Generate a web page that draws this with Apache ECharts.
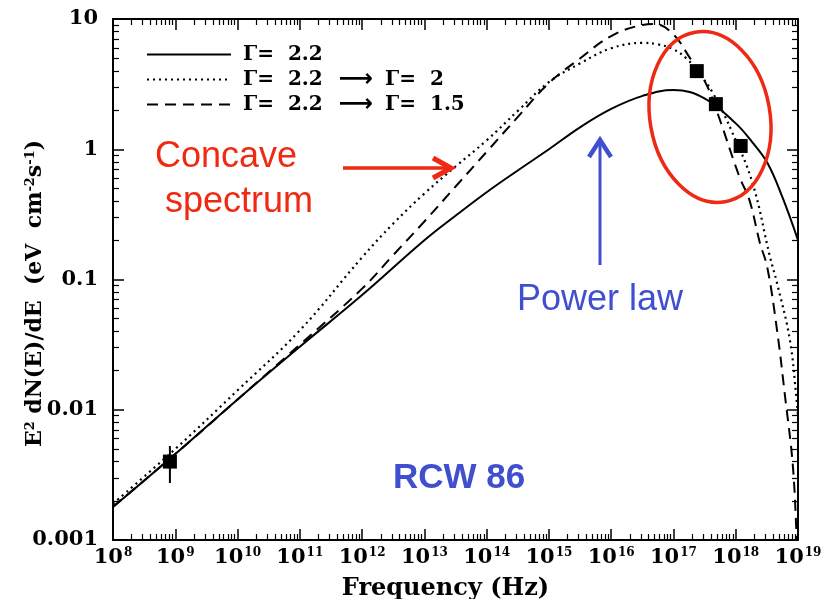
<!DOCTYPE html>
<html>
<head>
<meta charset="utf-8">
<title>RCW 86</title>
<script src="https://cdn.jsdelivr.net/npm/echarts@6/dist/echarts.min.js"></script>
<style>
  html, body { margin: 0; padding: 0; background: #fff; }
  #chart { width: 834px; height: 599px; }
</style>
</head>
<body>
<div id="chart"></div>
<script>
// model curves, [frequency Hz, E^2 dN/dE]
const gamma22 = [
  [1e8, 0.00179], [1e9, 0.00457], [1e10, 0.0120], [1e11, 0.0305], [1e12, 0.0759],
  [1e13, 0.200], [3.2e13, 0.31], [1e14, 0.468], [3.2e14, 0.69], [1e15, 1.0],
  [3.2e15, 1.48], [1e16, 2.04], [3.2e16, 2.57], [1e17, 2.85], [3.2e17, 2.45],
  [1e18, 1.58], [1.8e18, 1.15], [3.2e18, 0.79], [5.6e18, 0.43], [1e19, 0.20]
]
const gamma22to2 = [
  [1e8, 0.0019], [1e9, 0.0050], [1e10, 0.0141], [1e11, 0.0407], [1e12, 0.148],
  [3.2e12, 0.27], [1e13, 0.457], [3.2e13, 0.74], [1e14, 1.17], [3.2e14, 1.98],
  [1e15, 3.28], [3.2e15, 4.57], [1e16, 5.96], [3.2e16, 6.55], [5.5e16, 6.4],
  [1e17, 5.85], [1.6e17, 5.0], [2.35e17, 4.06], [4.3e17, 2.70], [8.9e17, 1.33],
  [1.86e18, 0.551], [3.55e18, 0.149], [4.6e18, 0.094], [7.4e18, 0.0344],
  [9.5e18, 0.0119], [1e19, 0.0089]
]
const gamma22to15 = [
  [1e8, 0.0018], [1e9, 0.00457], [1e10, 0.0120], [1e11, 0.0316], [1e12, 0.0851],
  [3.2e12, 0.155], [1e13, 0.279], [3.2e13, 0.52], [1e14, 0.955], [3.2e14, 1.78],
  [1e15, 3.22], [3.2e15, 5.0], [1e16, 7.4], [3.2e16, 9.0], [5e16, 9.15],
  [1e17, 7.6], [1.8e17, 5.1], [3.2e17, 3.31], [4.9e17, 2.0], [1.15e18, 0.612],
  [1.66e18, 0.407], [2.45e18, 0.19], [3.2e18, 0.125], [4.6e18, 0.041],
  [6.2e18, 0.0126], [8.3e18, 0.00363], [9.5e18, 0.001]
]
// observed fluxes (radio + X-ray)
const obsPoints = [[8.2e8, 0.0040], [2.37e17, 3.98], [4.8e17, 2.22], [1.2e18, 1.06]]
const radioErr = [[8.2e8, 0.00527], [8.2e8, 0.00274]]

const xTickExps = [8, 9, 10, 11, 12, 13, 14, 15, 16, 17, 18, 19]
const yTickLabels = ['0.001', '0.01', '0.1', '1', '10']

const serifFont = '"DejaVu Serif", serif'
const sansFont = '"Liberation Sans", Arial, sans-serif'

const chart = echarts.init(document.getElementById('chart'))

const axisCommon = {
  axisLine: { show: true, onZero: false, lineStyle: { color: '#000', width: 2 } },
  axisTick: { show: true, inside: true, length: 11, lineStyle: { color: '#000', width: 1.5 } },
  minorTick: { show: true, splitNumber: 9, length: 6, lineStyle: { color: '#000', width: 1.2 } },
  splitLine: { show: false },
  minorSplitLine: { show: false }
}

function xLabel(v) {
  const e = Math.round(Math.log10(v))
  if (xTickExps.indexOf(e) < 0) return ''
  return '{b|10}{s|' + e + '}'
}

function yLabel(v) {
  const i = Math.round(Math.log10(v)) + 3
  return yTickLabels[i] || ''
}

const legendText = { fontFamily: serifFont, fontWeight: 'bold', fontSize: 20, color: '#000', lineHeight: 25 }

chart.setOption({
  animation: false,
  backgroundColor: '#fff',
  grid: { left: 113, right: 36, top: 19, bottom: 59, outerBoundsMode: 'none' },
  legend: {
    orient: 'vertical',
    left: 141,
    top: 37,
    itemWidth: 84,
    itemHeight: 14,
    itemGap: 0,
    itemStyle: { opacity: 0 },
    data: ['g22', 'g20', 'g15'],
    formatter: function (name) {
      if (name === 'g22') return '{t|Γ=  2.2}'
      if (name === 'g20') return '{t|Γ=  2.2}{a|⟶}{t|Γ=  2}'
      return '{t|Γ=  2.2}{a|⟶}{t|Γ=  1.5}'
    },
    textStyle: {
      padding: [0, 0, 0, 7],
      lineHeight: 25,
      rich: {
        t: legendText,
        a: { fontFamily: '"DejaVu Sans", sans-serif', fontWeight: 'bold', fontSize: 24, color: '#000', lineHeight: 25, padding: [0, 12, 0, 16] }
      }
    }
  },
  xAxis: [
    Object.assign({}, axisCommon, {
      type: 'log',
      logBase: 10,
      min: 1e8,
      max: 1e19,
      interval: 1,
      position: 'bottom',
      name: 'Frequency (Hz)',
      nameLocation: 'middle',
      nameGap: 37,
      nameMoveOverlap: false,
      nameTextStyle: { fontFamily: serifFont, fontWeight: 'bold', fontSize: 24, color: '#000', padding: [0, 20, 0, 0] },
      axisLabel: {
        margin: 7,
        formatter: xLabel,
        rich: {
          b: { fontFamily: serifFont, fontWeight: 'bold', fontSize: 21, color: '#000' },
          s: { fontFamily: serifFont, fontWeight: 'bold', fontSize: 12, color: '#000', padding: [0, 0, 10, 1] }
        }
      }
    }),
    Object.assign({}, axisCommon, {
      type: 'log',
      logBase: 10,
      min: 1e8,
      max: 1e19,
      interval: 1,
      position: 'top',
      axisLabel: { show: false }
    })
  ],
  yAxis: [
    Object.assign({}, axisCommon, {
      type: 'log',
      logBase: 10,
      min: 0.001,
      max: 10,
      position: 'left',
      name: 'E{s|2} dN(E)/dE  (eV  cm{s|-2}s{s|-1})',
      nameLocation: 'middle',
      nameGap: 66,
      nameMoveOverlap: false,
      nameRotate: 90,
      nameTextStyle: {
        fontFamily: serifFont, fontWeight: 'bold', fontSize: 22, color: '#000',
        padding: [0, 28, 0, 0],
        rich: {
          s: { fontFamily: serifFont, fontWeight: 'bold', fontSize: 13, color: '#000', padding: [0, 0, 10, 0] }
        }
      },
      axisLabel: {
        margin: 15,
        formatter: yLabel,
        fontFamily: serifFont,
        fontWeight: 'bold',
        fontSize: 21,
        color: '#000'
      }
    }),
    Object.assign({}, axisCommon, {
      type: 'log',
      logBase: 10,
      min: 0.001,
      max: 10,
      position: 'right',
      axisLabel: { show: false }
    })
  ],
  series: [
    {
      name: 'g22',
      type: 'line',
      data: gamma22,
      smooth: 0.4,
      symbol: 'none',
      lineStyle: { color: '#000', width: 2, type: 'solid' },
      itemStyle: { color: '#000' }
    },
    {
      name: 'g20',
      type: 'line',
      data: gamma22to2,
      smooth: 0.4,
      symbol: 'none',
      lineStyle: { color: '#000', width: 2.2, type: [2, 4] },
      itemStyle: { color: '#000' }
    },
    {
      name: 'g15',
      type: 'line',
      data: gamma22to15,
      smooth: 0.4,
      symbol: 'none',
      lineStyle: { color: '#000', width: 2, type: [11, 7] },
      itemStyle: { color: '#000' }
    },
    {
      name: 'radio error',
      type: 'line',
      data: radioErr,
      symbol: 'none',
      lineStyle: { color: '#000', width: 2 }
    },
    {
      name: 'data',
      type: 'scatter',
      data: obsPoints,
      symbol: 'rect',
      symbolSize: 14,
      itemStyle: { color: '#000', opacity: 1 },
      z: 5
    }
  ],
  graphic: [
    // red ellipse round the X-ray points
    {
      type: 'ellipse',
      x: 710, y: 117,
      rotation: 10 * Math.PI / 180,
      shape: { cx: 0, cy: 0, rx: 60, ry: 86 },
      style: { fill: null, stroke: '#ee2a14', lineWidth: 3.5 },
      z: 10
    },
    {
      type: 'text',
      left: 155, top: 135,
      style: {
        text: 'Concave\n spectrum',
        font: '36px ' + sansFont,
        fill: '#f02a12',
        lineHeight: 45
      },
      z: 10
    },
    {
      type: 'polyline',
      shape: { points: [[343, 168], [449, 168]] },
      style: { stroke: '#f02a12', lineWidth: 3.5, fill: null },
      z: 10
    },
    {
      type: 'polyline',
      shape: { points: [[433, 158], [451, 168], [433, 178]] },
      style: { stroke: '#f02a12', lineWidth: 5, fill: null },
      z: 10
    },
    {
      type: 'polyline',
      shape: { points: [[600, 265], [600, 141]] },
      style: { stroke: '#3f4fcf', lineWidth: 3, fill: null },
      z: 10
    },
    {
      type: 'polyline',
      shape: { points: [[589, 157], [600, 140], [611, 157]] },
      style: { stroke: '#3f4fcf', lineWidth: 4.5, fill: null },
      z: 10
    },
    {
      type: 'text',
      left: 517, top: 282,
      style: { text: 'Power law', font: '36px ' + sansFont, fill: '#3f4fcf' },
      z: 10
    },
    {
      type: 'text',
      left: 393, top: 461,
      style: { text: 'RCW 86', font: 'bold 35px ' + sansFont, fill: '#3f4fcf' },
      z: 10
    }
  ]
})
</script>
</body>
</html>
